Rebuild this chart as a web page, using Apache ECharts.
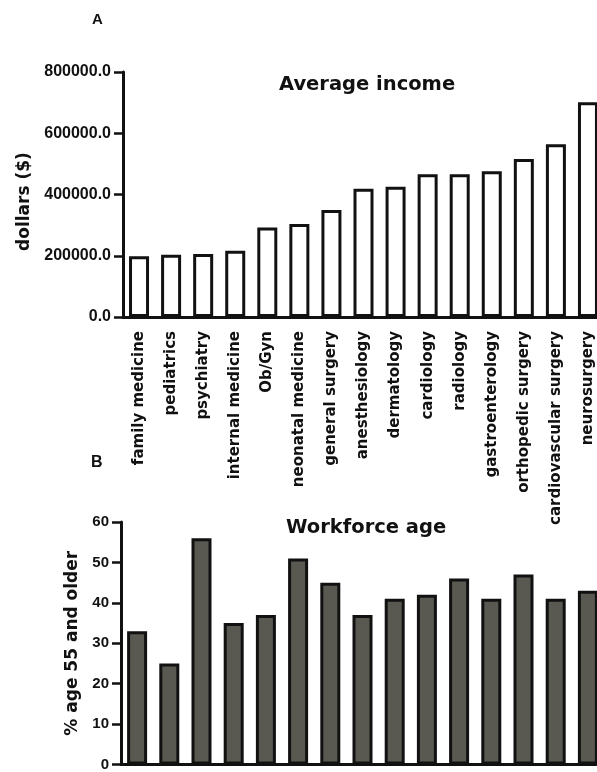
<!DOCTYPE html>
<html>
<head>
<meta charset="utf-8">
<script src="https://cdn.jsdelivr.net/npm/echarts@6/dist/echarts.min.js"></script>
<style>
  html, body { margin: 0; padding: 0; background: #fff; overflow: hidden; }
  /* the figure runs slightly past the right edge of the page */
  #chart { width: 620px; height: 772px; }
</style>
</head>
<body>
<div id="chart"></div>
<script>
// Specialties, shared by both panels
const categories = [
  'family medicine', 'pediatrics', 'psychiatry', 'internal medicine', 'Ob/Gyn',
  'neonatal medicine', 'general surgery', 'anesthesiology', 'dermatology',
  'cardiology', 'radiology', 'gastroenterology', 'orthopedic surgery',
  'cardiovascular surgery', 'neurosurgery'
];
// Panel A: average income in dollars
const avgIncome = [
  198000, 203000, 206000, 216000, 292000, 304000, 349000, 419000,
  425000, 466000, 466000, 476000, 516000, 564000, 701000
];
// Panel B: percent of workforce aged 55 and older
const agePct = [33, 25, 56, 35, 37, 51, 45, 37, 41, 42, 46, 41, 47, 41, 43];

const incomeTicks = ['0.0', '200000.0', '400000.0', '600000.0', '800000.0'];
const ageTicks = ['0', '10', '20', '30', '40', '50', '60'];

const INK = '#111';
const SANS = 'Liberation Sans, Arial, sans-serif';
const WIDE = 'DejaVu Sans, sans-serif';

const chart = echarts.init(document.getElementById('chart'), null, { renderer: 'canvas' });

function valueAxis(gridIndex, max, interval, ticks, name, nameGap, fontSize, namePad) {
  return {
    type: 'value', gridIndex, min: 0, max, interval,
    name, nameLocation: 'middle', nameGap,
    nameTextStyle: {
      fontFamily: WIDE, fontWeight: 'bold', fontSize: 17, color: INK, padding: namePad
    },
    axisLine: { show: true, lineStyle: { color: INK, width: 3 } },
    axisTick: { show: true, length: 9, lineStyle: { color: INK, width: 2.5 } },
    axisLabel: {
      margin: 12, color: INK, fontFamily: SANS, fontWeight: 'bold', fontSize,
      formatter: (v, i) => ticks[i]
    },
    splitLine: { show: false }
  };
}

const option = {
  backgroundColor: '#fff',
  animation: false,
  title: [
    { text: 'A', left: 92, top: 12, padding: 0,
      textStyle: { fontFamily: SANS, fontWeight: 'bold', fontSize: 15, color: INK } },
    { text: 'B', left: 91, top: 455, padding: 0,
      textStyle: { fontFamily: SANS, fontWeight: 'bold', fontSize: 16, color: INK } },
    { text: 'Average income', left: 279, top: 75, padding: 0,
      textStyle: { fontFamily: WIDE, fontWeight: 'bold', fontSize: 19.5, color: INK } },
    { text: 'Workforce age', left: 286, top: 518, padding: 0,
      textStyle: { fontFamily: WIDE, fontWeight: 'bold', fontSize: 19.5, color: INK } }
  ],
  grid: [
    { left: 123, top: 72, width: 481, height: 245 },
    { left: 121, top: 522, width: 483, height: 245 }
  ],
  xAxis: [
    {
      type: 'category', gridIndex: 0, data: categories,
      axisLine: { lineStyle: { color: INK, width: 3 } },
      axisTick: { alignWithLabel: true, length: 7, lineStyle: { color: INK, width: 2.5 } },
      axisLabel: {
        interval: 0, rotate: 90, margin: 14, color: INK,
        fontFamily: WIDE, fontWeight: 'bold', fontSize: 15
      }
    },
    {
      type: 'category', gridIndex: 1, data: categories,
      axisLine: { lineStyle: { color: INK, width: 3 } },
      axisTick: { show: false },
      axisLabel: { show: false }
    }
  ],
  yAxis: [
    valueAxis(0, 800000, 200000, incomeTicks, 'dollars ($)', 90, 16, [0, 14, 0, 0]),
    valueAxis(1, 60, 10, ageTicks, '% age 55 and older', 39, 15, 0)
  ],
  series: [
    {
      type: 'bar', xAxisIndex: 0, yAxisIndex: 0, data: avgIncome, barWidth: 20,
      itemStyle: { color: '#fff', borderColor: INK, borderWidth: 3 }
    },
    {
      type: 'bar', xAxisIndex: 1, yAxisIndex: 1, data: agePct, barWidth: 20,
      itemStyle: { color: '#595952', borderColor: INK, borderWidth: 3 }
    }
  ]
};

chart.setOption(option);
</script>
</body>
</html>
